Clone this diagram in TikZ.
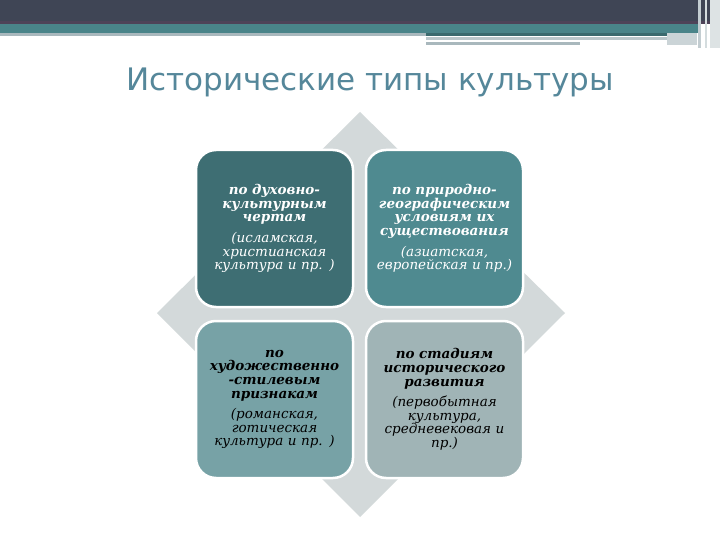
\documentclass[tikz,border=0pt]{standalone}
\usepackage{fontspec}
\setmainfont{DejaVu Serif}
\newfontfamily\titlefont{DejaVu Sans}
\usepackage{tikz}

\definecolor{barDark}{HTML}{3F4555}
\definecolor{barLine}{HTML}{4E4358}
\definecolor{barTeal}{HTML}{4A8489}
\definecolor{barGray}{HTML}{A9B8BD}
\definecolor{titleBlue}{HTML}{55879A}
\definecolor{diamondGray}{HTML}{D3D9DA}
\definecolor{boxA}{HTML}{3E6E73}
\definecolor{boxB}{HTML}{4F8A90}
\definecolor{boxC}{HTML}{77A2A6}
\definecolor{boxD}{HTML}{A0B4B6}

\begin{document}
\begin{tikzpicture}[x=1pt,y=-1pt,
  tbox/.style={draw=white, line width=2.5pt, rounded corners=20pt,
    minimum width=157pt, minimum height=157pt, align=center,
    text width=150pt, inner sep=0pt,
    font=\itshape\fontsize{13.5}{13.6}\selectfont}]

\useasboundingbox[fill=white] (0,0) rectangle (720,540);

% top bar
\fill[barDark] (0,0) rectangle (720,21);
\fill[barLine] (0,21) rectangle (720,24);
\fill[barTeal] (0,24) rectangle (700,33);
\fill[barGray] (0,33) rectangle (426,36);
\fill[barTeal!80!black] (426,33) rectangle (697,36);
\fill[barGray!80] (426,37) rectangle (667,40);
\fill[barGray!60] (667,33) rectangle (697,45);
\fill[barGray] (426,42) rectangle (580,45);
\fill[barGray!70] (698,0) rectangle (701,48);
\fill[barGray!50] (705,0) rectangle (707,48);
\fill[barGray!40!white] (710,0) rectangle (720,48);

% title
\node[text=titleBlue, font=\titlefont\fontsize{31}{36}\selectfont] (title) at (370,82) {Исторические типы культуры};

% background diamond
\fill[diamondGray] (360,112) -- (565,313) -- (360,517) -- (157,313) -- cycle;

\node[tbox, fill=boxA, text=white] (spirit) at (274.5,228.5)
  {\textbf{по духовно-\\культурным\\чертам}\\[7pt](исламская,\\христианская\\культура и пр. )};
\node[tbox, fill=boxB, text=white] (geo) at (444.5,228.5)
  {\textbf{по природно-\\географическим\\условиям их\\существования}\\[7pt](азиатская,\\европейская и пр.)};
\node[tbox, fill=boxC, text=black] (art) at (274.5,399.5)
  {\textbf{по\\художественно\\-стилевым\\признакам}\\[7pt](романская,\\готическая\\культура и пр. )};
\node[tbox, fill=boxD, text=black] (stage) at (444.5,399.5)
  {\textbf{по стадиям\\исторического\\развития}\\[7pt](первобытная\\культура,\\средневековая и\\пр.)};

\end{tikzpicture}
\end{document}
